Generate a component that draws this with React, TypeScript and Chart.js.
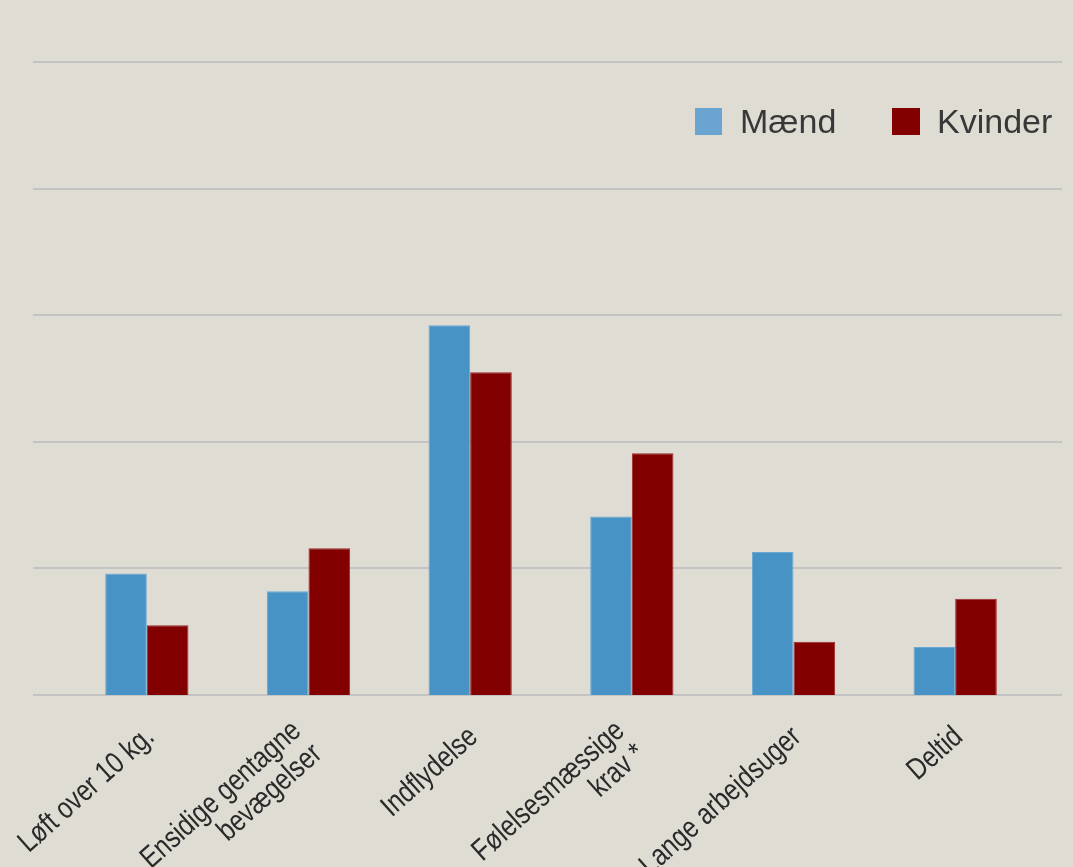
import React, { useEffect, useRef } from "react";
import { Chart, registerables } from "chart.js";

Chart.register(...registerables);

const categories: (string | string[])[] = [
  "Løft over 10 kg.",
  ["Ensidige gentagne", "bevægelser"],
  "Indflydelse",
  ["Følelsesmæssige", "krav *"],
  "Lange arbejdsuger",
  "Deltid",
];
const seriesNames = ["Mænd", "Kvinder"];
const maend = [9.6, 8.2, 29.2, 14.1, 11.3, 3.8];
const kvinder = [5.5, 11.6, 25.5, 19.1, 4.2, 7.6];
const yTicks = [0, 10, 20, 30, 40, 50];

const BG = "#dfdcd4";
const BLUE = "#4893c5";
const RED = "#820000";

const gridPlugin = {
  id: "wideGrid",
  beforeDatasetsDraw(chart: any) {
    const ctx = chart.ctx;
    const y = chart.scales.y;
    ctx.save();
    ctx.strokeStyle = "#c3c3c3";
    ctx.lineWidth = 2;
    for (const v of yTicks) {
      const py = Math.round(y.getPixelForValue(v));
      ctx.beginPath();
      ctx.moveTo(33, py);
      ctx.lineTo(1062, py);
      ctx.stroke();
    }
    ctx.restore();
  },
};

// Rotated, horizontally condensed category labels (Arial Narrow look)
const LABEL_SIZE = 30;
const LINE_H = 31;
const ANGLE = (42 * Math.PI) / 180;
const narrowLabelPlugin = {
  id: "narrowLabels",
  afterDraw(chart: any) {
    const ctx = chart.ctx;
    const xs = chart.scales.x;
    const base = xs.top;
    const px1 = Math.sin(ANGLE);
    const py1 = Math.cos(ANGLE);
    ctx.save();
    ctx.font = `${LABEL_SIZE}px "Liberation Sans", Arial, sans-serif`;
    ctx.fillStyle = "#2a2a2a";
    ctx.textAlign = "right";
    ctx.textBaseline = "alphabetic";
    categories.forEach((lab, i) => {
      const px = xs.getPixelForTick(i);
      const lines = Array.isArray(lab) ? lab : [lab];
      const multi = lines.length > 1;
      const ox = multi ? -6 : 9;
      const oy = multi ? 38 : 44;
      lines.forEach((line, k) => {
        const ex = px + ox + k * LINE_H * px1;
        const ey = base + oy + k * LINE_H * py1;
        ctx.save();
        ctx.translate(ex, ey);
        ctx.rotate(-ANGLE);
        ctx.scale(0.82, 1);
        ctx.fillText(line, 0, 0);
        ctx.restore();
      });
    });
    ctx.restore();
  },
};

export default function App() {
  const ref = useRef<HTMLCanvasElement | null>(null);
  useEffect(() => {
    document.body.style.margin = "0";
    if (!ref.current) return;
    const chart = new Chart(ref.current, {
      type: "bar",
      data: {
        labels: categories,
        datasets: [
          {
            label: seriesNames[0],
            data: maend,
            backgroundColor: BLUE,
            borderColor: "#6aa8d3",
            borderWidth: 1,
            categoryPercentage: 0.515,
            barPercentage: 1,
          },
          {
            label: seriesNames[1],
            data: kvinder,
            backgroundColor: RED,
            borderColor: "#9a2a2a",
            borderWidth: 1,
            categoryPercentage: 0.515,
            barPercentage: 1,
          },
        ],
      },
      options: {
        responsive: false,
        animation: false,
        layout: { padding: { top: 62, left: 66, right: 37, bottom: 0 } },
        plugins: {
          legend: { display: false },
          tooltip: { enabled: false },
        },
        scales: {
          x: {
            grid: { display: false },
            border: { display: false },
            ticks: { display: false },
            afterFit(scale: any) {
              scale.height = 172;
            },
          },
          y: {
            display: false,
            min: 0,
            max: 50,
            ticks: { stepSize: 10 },
          },
        },
      },
      plugins: [gridPlugin, narrowLabelPlugin],
    });
    return () => chart.destroy();
  }, []);

  const legendText: React.CSSProperties = {
    position: "absolute",
    top: 101,
    fontFamily: '"Liberation Sans", Arial, sans-serif',
    fontSize: 34,
    lineHeight: "40px",
    color: "#383838",
  };

  return (
    <div style={{ position: "relative", width: 1073, height: 867, background: BG, overflow: "hidden" }}>
      <canvas ref={ref} width={1073} height={867} style={{ position: "absolute", left: 0, top: 0 }} />
      <div style={{ position: "absolute", left: 695, top: 108, width: 27, height: 27, background: "#6aa4d0" }} />
      <div style={{ ...legendText, left: 740 }}>{seriesNames[0]}</div>
      <div style={{ position: "absolute", left: 892, top: 108, width: 28, height: 27, background: RED }} />
      <div style={{ ...legendText, left: 937 }}>{seriesNames[1]}</div>
    </div>
  );
}
